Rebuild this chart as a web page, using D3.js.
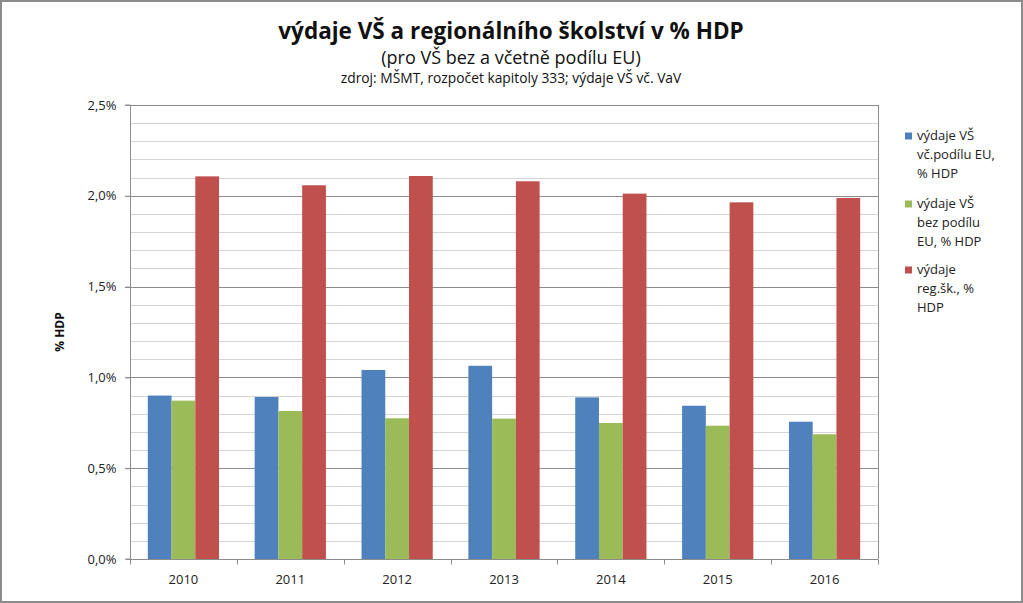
<!DOCTYPE html>
<html><head><meta charset="utf-8">
<script src="https://cdn.jsdelivr.net/npm/d3@7"></script>
<style>body{margin:0;background:#fff}svg{display:block;font-family:"Open Sans","Noto Sans",sans-serif}</style>
</head><body><svg id="c" width="1023" height="603"></svg>
<script>
const years = ["2010","2011","2012","2013","2014","2015","2016"];
const seriesNames = ["výdaje VŠ vč.podílu EU, % HDP","výdaje VŠ bez podílu EU, % HDP","výdaje reg.šk., % HDP"];
const vsWithEU = [0.90,0.892,1.041,1.064,0.890,0.844,0.756];
const vsWithoutEU = [0.872,0.815,0.775,0.773,0.749,0.734,0.687];
const regSk = [2.107,2.058,2.109,2.080,2.012,1.964,1.988];
const yTicks = [0,0.5,1.0,1.5,2.0,2.5];
const legendLines = [["výdaje VŠ","vč.podílu EU,","% HDP"],["výdaje VŠ","bez podílu","EU, % HDP"],["výdaje","reg.šk., %","HDP"]];
const colors = ["#4F81BD","#9BBB59","#C0504D"];
const series = [vsWithEU, vsWithoutEU, regSk];

const svg = d3.select("#c");
svg.append("rect").attr("x",1).attr("y",1).attr("width",1021).attr("height",601).attr("fill","#fff").attr("stroke","#8c8c8c").attr("stroke-width",2);

const L=130,R=878,T=105,B=559;
const x0 = d3.scaleBand().domain(years).range([L,R]).paddingInner(1/3).paddingOuter(1/6);
const x1 = d3.scaleBand().domain([0,1,2]).range([0,x0.bandwidth()]);
const y = d3.scaleLinear().domain([0,2.5]).range([B,T]);

// gridlines
const minor = d3.range(0,26).map(i=>i/10);
svg.append("g").selectAll("line").data(minor.filter(v=>Math.round(v*10)%5!==0)).join("line")
  .attr("x1",L).attr("x2",R).attr("y1",d=>Math.round(y(d))+0.5).attr("y2",d=>Math.round(y(d))+0.5)
  .attr("stroke","#d4d4d4").attr("stroke-width",1);
svg.append("g").selectAll("line").data(yTicks.filter(v=>v>0)).join("line")
  .attr("x1",L-5).attr("x2",R).attr("y1",d=>Math.round(y(d))+0.5).attr("y2",d=>Math.round(y(d))+0.5)
  .attr("stroke","#8c8c8c").attr("stroke-width",1);
// right border
svg.append("line").attr("x1",R+0.5).attr("x2",R+0.5).attr("y1",T).attr("y2",B).attr("stroke","#8c8c8c");

// bars
const g = svg.append("g");
series.forEach((s,si)=>{
  g.append("g").selectAll("rect").data(s).join("rect")
   .attr("x",(d,i)=>x0(years[i])+x1(si)).attr("width",x1.bandwidth())
   .attr("y",d=>y(d)).attr("height",d=>B-y(d)).attr("fill",colors[si]);
});

// axes
const ya = svg.append("g").attr("transform",`translate(${L+0.5},0)`)
  .call(d3.axisLeft(y).tickValues(yTicks).tickSize(5).tickFormat(d=>d3.format(".1f")(d).replace(".",",")+"%"));
ya.select(".domain").attr("stroke","#8c8c8c").attr("d",`M-5,${B}H0V${T}H-5`);
ya.selectAll(".tick line").attr("stroke","#8c8c8c");
ya.selectAll("text").attr("font-size",13).attr("fill","#222").attr("font-family","'Open Sans',sans-serif").attr("x",-14);

const xa = svg.append("g").attr("transform",`translate(0,${B+0.5})`);
xa.append("line").attr("x1",L).attr("x2",R).attr("stroke","#8c8c8c");
const bounds = years.map(yr=>x0(yr)-x0.step()*x0.paddingOuter()).concat([R]);
xa.selectAll("line.t").data(bounds).join("line").attr("class","t")
  .attr("x1",d=>Math.round(d)+0.5).attr("x2",d=>Math.round(d)+0.5).attr("y1",0).attr("y2",5).attr("stroke","#8c8c8c");
xa.selectAll("text").data(years).join("text")
  .attr("x",d=>x0(d)+x0.bandwidth()/2).attr("y",24).attr("text-anchor","middle")
  .attr("font-size",13).attr("fill","#222").text(d=>d);

// y title
svg.append("text").attr("transform","translate(64,332) rotate(-90)").attr("text-anchor","middle")
  .attr("font-size",12).attr("font-weight","bold").attr("fill","#111").text("% HDP");

// titles
svg.append("text").attr("x",511).attr("y",39).attr("text-anchor","middle").attr("font-size",22.5).attr("font-weight","bold").attr("fill","#111")
  .text("výdaje VŠ a regionálního školství v % HDP");
svg.append("text").attr("x",511).attr("y",64).attr("text-anchor","middle").attr("font-size",18).attr("fill","#111")
  .text("(pro VŠ bez a včetně podílu EU)");
svg.append("text").attr("x",511).attr("y",83).attr("text-anchor","middle").attr("font-size",13.8).attr("fill","#111")
  .text("zdroj: MŠMT, rozpočet kapitoly 333; výdaje VŠ vč. VaV");

// legend
const lg = svg.append("g");
const groupY = [140,208,274];
legendLines.forEach((lines,i)=>{
  lg.append("rect").attr("x",905).attr("y",groupY[i]-7.5).attr("width",7).attr("height",7).attr("fill",colors[i]);
  lines.forEach((t,j)=>{
    lg.append("text").attr("x",917).attr("y",groupY[i]+j*19).attr("font-size",13).attr("fill","#222").text(t);
  });
});
</script></body></html>
